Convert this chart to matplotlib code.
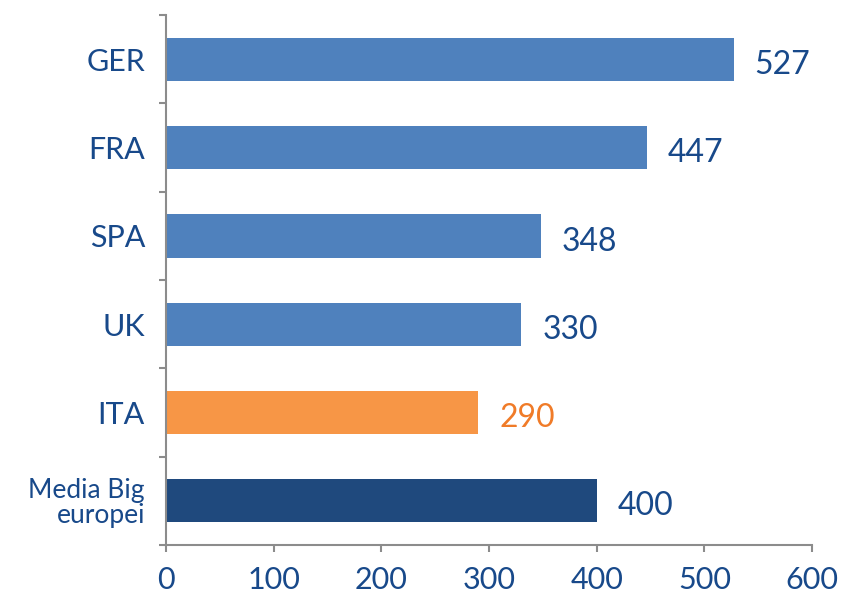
import matplotlib.pyplot as plt
import numpy as np

categories = ["Media Big\neuropei", "ITA", "UK", "SPA", "FRA", "GER"]
values = [400, 290, 330, 348, 447, 527]
bar_colors = ["#1F497D", "#F79646", "#4F81BD", "#4F81BD", "#4F81BD", "#4F81BD"]
label_colors = ["#18498A", "#F07B28", "#18498A", "#18498A", "#18498A", "#18498A"]
x_ticks = [0, 100, 200, 300, 400, 500, 600]

plt.rcParams['font.family'] = ['Lato', 'DejaVu Sans']
text_color = "#18498A"

fig = plt.figure(figsize=(8.46, 5.98), dpi=100)
ax = fig.add_axes([0.196, 0.0886, 0.764, 0.886])

y = np.arange(len(categories))
ax.barh(y, values, height=0.49, color=bar_colors)

for yi, v, c in zip(y, values, label_colors):
    ax.annotate(str(v), (v, yi), xytext=(15, -4), textcoords="offset points",
                va="center", ha="left", fontsize=23, color=c)

ax.set_xlim(0, 600)
ax.set_ylim(-0.5, len(categories) - 0.5)
ax.set_xticks(x_ticks)
ax.set_xticklabels([str(t) for t in x_ticks], fontsize=22, color=text_color)
ax.set_yticks(y)
ax.set_yticklabels(categories, fontsize=22, color=text_color)
ax.get_yticklabels()[0].set_fontsize(19)
ax.get_yticklabels()[0].set_linespacing(1.0)
ax.set_yticks(np.arange(-0.5, len(categories), 1), minor=True)

ax.tick_params(axis="y", which="major", length=0, pad=15)
ax.tick_params(axis="y", which="minor", length=5, color="#8C8C8C", width=1.5)
ax.tick_params(axis="x", length=5, color="#8C8C8C", width=1.5, pad=10)

for side in ["top", "right"]:
    ax.spines[side].set_visible(False)
for side in ["left", "bottom"]:
    ax.spines[side].set_color("#8C8C8C")
    ax.spines[side].set_linewidth(1.5)

fig.savefig("out.png", dpi=100)
